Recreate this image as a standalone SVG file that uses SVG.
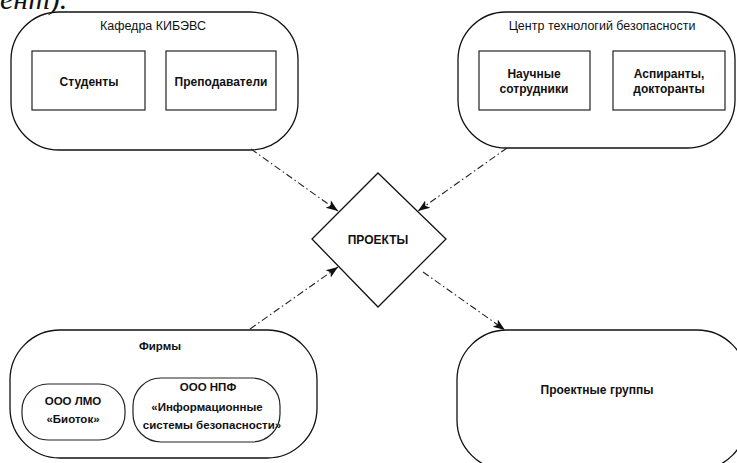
<svg xmlns="http://www.w3.org/2000/svg" width="737" height="463" viewBox="0 0 737 463">
<style>
.bg{fill:#fff}
.stad{fill:none;stroke:#111;stroke-width:1.3}
.box{fill:none;stroke:#222;stroke-width:1.2}
.t{font-family:"Liberation Sans",Arial,sans-serif;font-size:12.5px;fill:#111;text-anchor:middle}
.b{font-weight:bold;font-size:12px}
.s{font-weight:bold;font-size:11.5px}
.conn{fill:none;stroke:#222;stroke-width:1.1;stroke-dasharray:7 3 1.5 3}
.frag{font-family:"Liberation Serif","Times New Roman",serif;font-size:30px;font-style:italic;fill:#111}
</style>
<defs>
<marker id="arr" viewBox="0 0 12 12" refX="12" refY="6" markerWidth="12" markerHeight="12" markerUnits="userSpaceOnUse" orient="auto">
<path d="M0,1.5 L12,6 L0,10.5 L3,6 z" fill="#111"/>
</marker>
</defs>
<rect class="bg" x="0" y="0" width="737" height="463"/>
<text class="frag" x="0" y="9">ент).</text>

<g id="kafedra">
<rect class="stad" x="11" y="12" width="287" height="138" rx="48" ry="48"/>
<text class="t" x="153" y="30">Кафедра КИБЭВС</text>
<g id="studenty">
<rect class="box" x="32" y="51" width="113" height="59"/>
<text class="t b" x="89" y="86">Студенты</text>
</g>
<g id="prepodavateli">
<rect class="box" x="166" y="51" width="110" height="59"/>
<text class="t b" x="221" y="86">Преподаватели</text>
</g>
</g>

<g id="centr">
<rect class="stad" x="458" y="12" width="277" height="136" rx="48" ry="48"/>
<text class="t" x="602" y="30">Центр технологий безопасности</text>
<g id="nauchnye">
<rect class="box" x="479" y="51" width="111" height="59"/>
<text class="t b" x="534" y="78">Научные</text>
<text class="t b" x="534" y="93">сотрудники</text>
</g>
<g id="aspiranty">
<rect class="box" x="613" y="51" width="112" height="59"/>
<text class="t b" x="669" y="78">Аспиранты,</text>
<text class="t b" x="669" y="93">докторанты</text>
</g>
</g>

<g id="proekty">
<polygon class="stad" points="378,173 446,239 378,307 312,239" fill="#fff"/>
<text class="t b" x="378" y="244">ПРОЕКТЫ</text>
</g>

<g id="firmy">
<rect class="stad" x="10" y="330" width="307" height="128" rx="50" ry="50"/>
<text class="t s" x="160" y="350">Фирмы</text>
<g id="lmo">
<rect class="box" x="22" y="384" width="103" height="56" rx="26" ry="26"/>
<text class="t s" x="73" y="405">ООО ЛМО</text>
<text class="t s" x="73" y="423">«Биоток»</text>
</g>
<g id="npf">
<rect class="box" x="133" y="378" width="147" height="64" rx="28" ry="28"/>
<text class="t s" x="208" y="391">ООО НПФ</text>
<text class="t s" x="207" y="411">«Информационные</text>
<text class="t s" x="212" y="429">системы безопасности»</text>
</g>
</g>

<g id="gruppy">
<rect class="stad" x="457" y="330" width="290" height="140" rx="50" ry="50"/>
<text class="t b" x="597" y="394" font-size="13">Проектные группы</text>
</g>

<g id="connectors">
<line class="conn" x1="251" y1="149" x2="338" y2="211" marker-end="url(#arr)"/>
<line class="conn" x1="507" y1="148" x2="418" y2="211" marker-end="url(#arr)"/>
<line class="conn" x1="250" y1="329" x2="338" y2="267" marker-end="url(#arr)"/>
<line class="conn" x1="423" y1="272" x2="505" y2="330" marker-end="url(#arr)"/>
</g>
</svg>
